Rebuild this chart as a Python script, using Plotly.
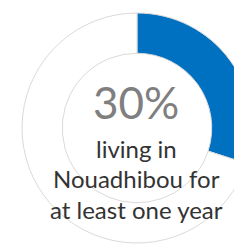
import plotly.graph_objects as go

labels = ["Living in Nouadhibou for at least one year", "Other"]
values = [30, 70]
colors = ["#0070c0", "#ffffff"]
headline = "30%"
caption_lines = ["living in", "Nouadhibou for", "at least one year"]

OFF = 8  # page body margin
W, H = 244, 240
ml, mr, mt, mb = 14, 0, 5, 5
pw, ph = W - ml - mr, H - mt - mb

def px(x):
    return (x - OFF - ml) / pw

def py(y):
    return 1 - (y - OFF - mt) / ph

fig = go.Figure(go.Pie(
    labels=labels, values=values, hole=0.65, sort=False,
    direction="clockwise", rotation=0,
    marker=dict(colors=colors, line=dict(color="#dadada", width=1)),
    textinfo="none", hoverinfo="none", showlegend=False,
))

annotations = [dict(text=headline, x=px(136), y=py(102), xref="paper", yref="paper",
                    showarrow=False, font=dict(family="Lato", size=44, color="#7f7f7f"),
                    xanchor="center", yanchor="middle")]
for i, line in enumerate(caption_lines):
    annotations.append(dict(text=line, x=px(136), y=py(148 + i * 30.5), xref="paper", yref="paper",
                            showarrow=False, font=dict(family="Lato", size=24, color="#333333"),
                            xanchor="center", yanchor="middle"))

fig.update_layout(width=W, height=H, margin=dict(l=ml, r=mr, t=mt, b=mb),
                  paper_bgcolor="white", plot_bgcolor="white", annotations=annotations)
fig.write_html("out.html")
